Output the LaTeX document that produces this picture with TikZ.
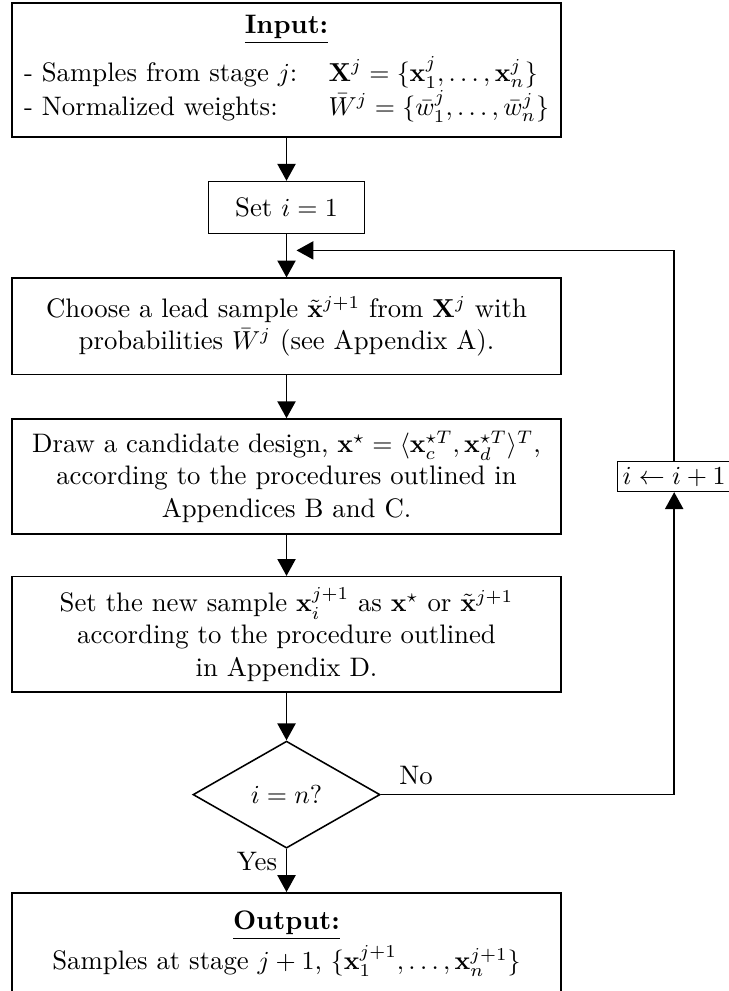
\documentclass[tikz,border=0pt]{standalone}
\usepackage{amsmath}
\usepackage{amssymb}
\usepackage{tikz}
\usetikzlibrary{shapes,shapes.geometric,arrows.meta,calc,positioning}
\tikzset{block/.style={draw,rectangle,align=center,minimum width=211.2pt,inner sep=3.33pt}}
\tikzset{decision/.style={draw,diamond,minimum width=72pt,minimum height=41.2pt,inner sep=1pt}}

\begin{document}
\begin{tikzpicture}[>={Triangle[length=6.5pt,width=7pt]}, semithick, node distance=16.6pt,
  font=\fontsize{10.3pt}{12.4pt}\selectfont]
\useasboundingbox (0,0) rectangle (280.3pt,-381.5pt);
\node[block, minimum height=51.6pt, anchor=north] (S0) at (110.3pt,-0.8pt) {\underline{\textbf{Input:}}\\[4pt]
  \begin{tabular}[t]{@{}ll@{}}
  - Samples from stage $j$: & $\mathbf{X}^j=\{\mathbf{x}^j_1,\ldots,\mathbf{x}^j_n\}$\\
  - Normalized weights: & $\bar{W}^j=\{\bar{w}^j_1,\ldots,\bar{w}^j_n\}$
  \end{tabular}};
\node[block, minimum width=60pt, minimum height=20pt][below=of S0] (S1) {Set $i=1$};
\node[block, minimum height=37pt][below=of S1] (S2) {Choose a lead sample $\tilde{\mathbf{x}}^{j+1}$ from $\mathbf{X}^j$ with\\
  probabilities $\bar{W}^j$ (see Appendix A).};
\node[block, minimum height=44.3pt][below=of S2] (S3) {Draw a candidate design, $\mathbf{x}^\star=\langle\mathbf{x}_c^{\star T},\mathbf{x}_d^{\star T}\rangle^T$,\\
  according to the procedures outlined in\\ Appendices B and C.};
\node[block, minimum height=44.3pt][below=15.8pt of S3] (S4) {Set the new sample $\mathbf{x}_i^{j+1}$ as $\mathbf{x}^\star$ or $\tilde{\mathbf{x}}^{j+1}$\\
  according to the procedure outlined\\ in Appendix D.};
\node[decision][below=18.4pt of S4] (S5) {$i=n?$};
\node[block, inner ysep=7pt, text depth=12pt][below=of S5] (S6) {\underline{\textbf{Output:}}\\[1pt]
  Samples at stage $j+1$, $\{\mathbf{x}_1^{j+1},\ldots,\mathbf{x}_n^{j+1}\}$};
\node[block, inner sep=2pt, minimum width=0pt][right=21.2pt of S3] (S7) {$i\leftarrow i+1$};
\coordinate (back) at ($(S1.south)+(3.85pt,-6.2pt)$);

% main flow
\path[->] (S0) edge (S1)
  (S1) edge (S2)
  (S2) edge (S3)
  (S3) edge (S4)
  (S4) edge (S5)
  (S5) edge node[left, pos=0.3] {Yes} (S6);
% loop back
\draw[->] (S5) -| node[pos=0.06, above] {No} (S7);
\draw[->] (S7) |- (back);
\end{tikzpicture}
\end{document}
